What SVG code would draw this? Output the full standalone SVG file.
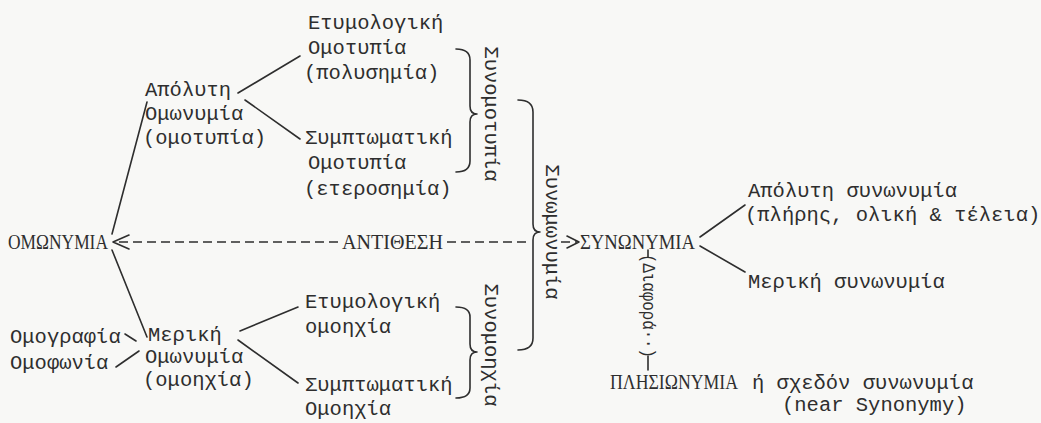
<svg xmlns="http://www.w3.org/2000/svg" width="1041" height="423" viewBox="0 0 1041 423">
<style>
.t{font-family:"Liberation Mono","DejaVu Sans Mono",monospace;font-size:20.5px;fill:#2e2e2e}
.c{font-family:"Liberation Serif","DejaVu Serif",serif;font-size:20px;fill:#2e2e2e}
.v{font-family:"Liberation Mono","DejaVu Sans Mono",monospace;font-size:20.5px;fill:#2e2e2e;text-anchor:middle;dominant-baseline:central}
.l{fill:none;stroke:#2e2e2e;stroke-width:1.6;stroke-linecap:round;stroke-linejoin:round}
.d{fill:none;stroke:#2e2e2e;stroke-width:1.4;stroke-dasharray:9 5}
</style>
<rect width="1041" height="423" fill="#f8f8f6"/>
<g id="connectors">
<path class="l" d="M112,234 L147,102"/>
<path class="l" d="M112,250 L147,337"/>
<path class="l" d="M238,93 L300,56"/>
<path class="l" d="M245,100 L300,139"/>
<path class="l" d="M240,331 L298,307"/>
<path class="l" d="M238,340 L298,383"/>
<path class="l" d="M125,334 L136,341"/>
<path class="l" d="M116,367 L139,351"/>
<path class="l" d="M700,237 L745,205"/>
<path class="l" d="M700,246 L745,272"/>
<path class="d" d="M338,242 L118,242"/>
<path class="l" d="M129,235 L113,242 L129,249"/>
<path class="d" d="M447,242 L527,242"/>
<path class="d" d="M561,242 L577,242"/>
<path class="l" d="M567,236 L579,242 L567,248"/>
<path class="l" d="M456,49 Q470,49 470,60 L470,106 Q470,114 477,114 Q470,114 470,122 L470,161 Q470,172 456,172"/>
<path class="l" d="M456,307 Q470,307 470,317 L470,344 Q470,352 477,352 Q470,352 470,360 L470,388 Q470,398 456,398"/>
<path class="l" d="M518,100 Q533,100 533,112 L533,224 Q533,232 540,232 Q533,232 533,240 L533,338 Q533,350 518,350"/>
<path class="l" d="M648,250 L648,257"/>
<path class="l" d="M648,356 L648,370"/>
</g>
<g id="omonymia"><text class="c" x="8" y="249" textLength="100" lengthAdjust="spacingAndGlyphs">ΟΜΩΝΥΜΙΑ</text></g>
<g id="antithesi"><text class="c" x="342" y="249" textLength="101" lengthAdjust="spacingAndGlyphs">ΑΝΤΙΘΕΣΗ</text></g>
<g id="synonymia"><text class="c" x="580" y="249" textLength="115" lengthAdjust="spacingAndGlyphs">ΣΥΝΩΝΥΜΙΑ</text></g>
<g id="apolyti-omonymia">
<text class="t" x="145" y="96">Απόλυτη</text>
<text class="t" x="145" y="120">Ομωνυμία</text>
<text class="t" x="143" y="144">(ομοτυπία)</text>
</g>
<g id="etym-omotypia">
<text class="t" x="308" y="29">Ετυμολογική</text>
<text class="t" x="308" y="54">Ομοτυπία</text>
<text class="t" x="304" y="79">(πολυσημία)</text>
</g>
<g id="sympt-omotypia">
<text class="t" x="305" y="144">Συμπτωματική</text>
<text class="t" x="308" y="169">Ομοτυπία</text>
<text class="t" x="304" y="195">(ετεροσημία)</text>
</g>
<g id="merikh-omonymia">
<text class="t" x="148" y="341">Μερική</text>
<text class="t" x="145" y="363">Ομωνυμία</text>
<text class="t" x="143" y="386">(ομοηχία)</text>
</g>
<g id="omografia"><text class="t" x="10" y="343">Ομογραφία</text></g>
<g id="omofonia"><text class="t" x="10" y="369">Ομοφωνία</text></g>
<g id="etym-omoixia">
<text class="t" x="305" y="308">Ετυμολογική</text>
<text class="t" x="305" y="333">ομοηχία</text>
</g>
<g id="symp-omoixia">
<text class="t" x="305" y="391">Συμπτωματική</text>
<text class="t" x="305" y="415">Ομοηχία</text>
</g>
<g id="synomotypia"><text class="v" transform="translate(490,114) rotate(90)">Συνομοτυπία</text></g>
<g id="synomoixia"><text class="v" transform="translate(490,345) rotate(90)">Συνομοηχία</text></g>
<g id="synomonymia"><text class="v" transform="translate(551,232) rotate(90)">Συνωμωνυμία</text></g>
<g id="apolyti-synonymia">
<text class="t" x="748" y="197">Απόλυτη συνωνυμία</text>
<text class="t" x="745" y="221">(πλήρης, ολική &amp; τέλεια)</text>
</g>
<g id="meriki-synonymia"><text class="t" x="748" y="288">Μερική συνωνυμία</text></g>
<g id="diafora"><text class="v" style="font-size:18px" transform="translate(648,306) rotate(90)" textLength="104" lengthAdjust="spacingAndGlyphs">(Διαφορά··)</text></g>
<g id="plisionymia">
<text class="c" x="610" y="389" textLength="128" lengthAdjust="spacingAndGlyphs">ΠΛΗΣΙΩΝΥΜΙΑ</text>
<text class="t" x="752" y="389">ή σχεδόν συνωνυμία</text>
<text class="t" x="782" y="411">(near Synonymy)</text>
</g>
</svg>
